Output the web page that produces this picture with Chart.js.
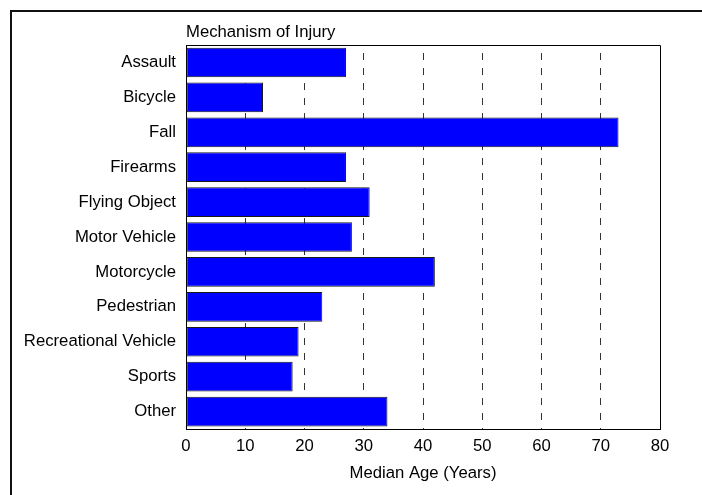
<!DOCTYPE html>
<html>
<head>
<meta charset="utf-8">
<title>Mechanism of Injury</title>
<script src="https://cdn.jsdelivr.net/npm/chart.js@4"></script>
<style>
  html, body { margin: 0; padding: 0; background: #fff; overflow: hidden; }
  #wrap { position: relative; width: 702px; height: 495px; }
  #frame {
    position: absolute; left: 10px; top: 10px; width: 800px; height: 600px;
    border-left: 2px solid #111; border-top: 2px solid #111;
  }
  #chart { position: absolute; left: 0; top: 0; }
</style>
</head>
<body>
<div id="wrap">
  <div id="frame"></div>
  <canvas id="chart" width="702" height="495"></canvas>
</div>
<script>
  const categories = [
    "Assault", "Bicycle", "Fall", "Firearms", "Flying Object", "Motor Vehicle",
    "Motorcycle", "Pedestrian", "Recreational Vehicle", "Sports", "Other"
  ];
  const medianAge = [27, 13, 73, 27, 31, 28, 42, 23, 19, 18, 34];
  const ageTicks = [0, 10, 20, 30, 40, 50, 60, 70, 80];

  const FONT = "'Liberation Sans', Arial, Helvetica, sans-serif";
  const FONT_SIZE = 16.7;

  Chart.defaults.color = "#000";
  Chart.defaults.font.family = FONT;
  Chart.defaults.font.size = FONT_SIZE;

  // top and right edge of the plot box
  const plotFrame = {
    id: "plotFrame",
    afterDraw(chart) {
      const a = chart.chartArea;
      const ctx = chart.ctx;
      ctx.save();
      ctx.strokeStyle = "#000";
      ctx.lineWidth = 1;
      ctx.beginPath();
      ctx.moveTo(Math.round(a.left) + 0.5, Math.round(a.top) + 0.5);
      ctx.lineTo(Math.round(a.right) + 0.5, Math.round(a.top) + 0.5);
      ctx.lineTo(Math.round(a.right) + 0.5, Math.round(a.bottom) + 0.5);
      ctx.stroke();
      ctx.restore();
    }
  };

  new Chart(document.getElementById("chart"), {
    type: "bar",
    data: {
      labels: categories,
      datasets: [{
        data: medianAge,
        backgroundColor: "#0000ff",
        borderColor: "#1a1a1a",
        borderWidth: 1,
        borderSkipped: false,
        barPercentage: 0.85,
        categoryPercentage: 1.0
      }]
    },
    options: {
      indexAxis: "y",
      responsive: false,
      animation: false,
      layout: { padding: { left: 0, right: 42, top: 0, bottom: 0 } },
      plugins: {
        legend: { display: false },
        tooltip: { enabled: false },
        title: {
          display: true,
          text: "Mechanism of Injury",
          align: "start",
          fullSize: false,
          color: "#000",
          font: { family: FONT, size: FONT_SIZE, weight: "normal" },
          padding: { top: 22, bottom: 3 }
        }
      },
      scales: {
        x: {
          type: "linear",
          min: ageTicks[0],
          max: ageTicks[ageTicks.length - 1],
          afterBuildTicks(scale) {
            scale.ticks = ageTicks.map(v => ({ value: v }));
          },
          afterFit(scale) { scale.height = 66; },
          grid: { color: "#333", lineWidth: 1, drawTicks: false },
          border: { display: true, color: "#000", width: 1, dash: [7, 8], dashOffset: 7 },
          ticks: { padding: 7, color: "#000", font: { size: FONT_SIZE } },
          title: {
            display: true,
            text: "Median Age (Years)",
            color: "#000",
            font: { size: FONT_SIZE },
            padding: { top: 4, bottom: 12 }
          }
        },
        y: {
          afterFit(scale) { scale.width = 186; },
          grid: { display: false, drawTicks: false },
          border: { display: true, color: "#000", width: 1 },
          ticks: { padding: 10, color: "#000", font: { size: FONT_SIZE } }
        }
      }
    },
    plugins: [plotFrame]
  });
</script>
</body>
</html>
